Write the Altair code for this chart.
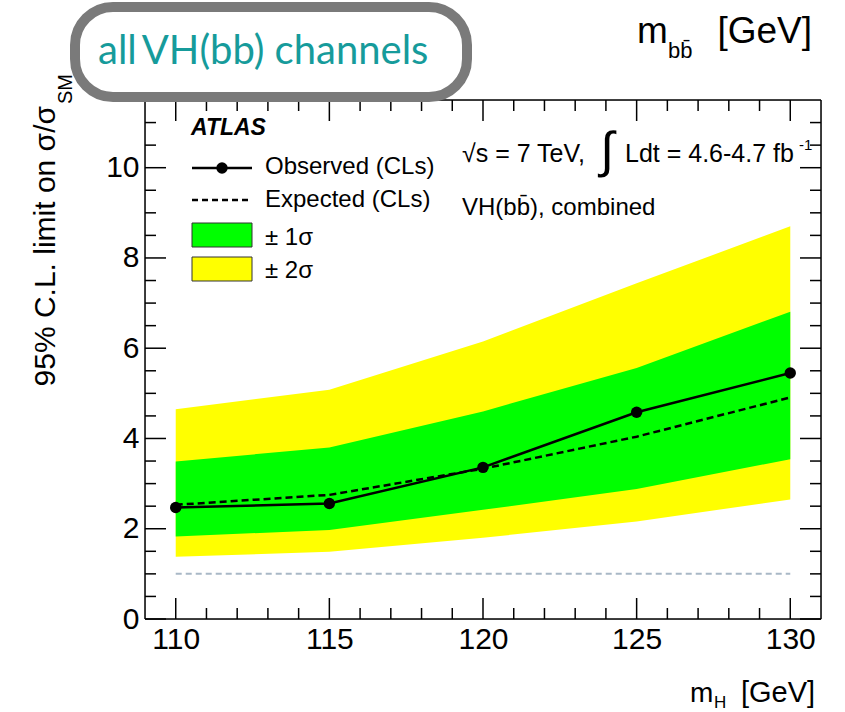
import altair as alt
import pandas as pd

# ---------------- data ----------------
mass = [110, 115, 120, 125, 130]
observed = [2.47, 2.56, 3.36, 4.58, 5.45]
expected = [2.53, 2.75, 3.33, 4.04, 4.91]
sigma1_lo = [1.83, 1.97, 2.42, 2.88, 3.54]
sigma1_hi = [3.49, 3.80, 4.60, 5.56, 6.81]
sigma2_lo = [1.38, 1.49, 1.80, 2.16, 2.65]
sigma2_hi = [4.65, 5.08, 6.15, 7.44, 8.70]
sm_level = [1.0, 1.0]
sm_range = [110, 130]

x_major = [110, 115, 120, 125, 130]
x_minor = [111, 112, 113, 114, 116, 117, 118, 119, 121, 122, 123, 124, 126, 127, 128, 129]
y_major = [0, 2, 4, 6, 8, 10]
y_minor = [0.5, 1, 1.5, 2.5, 3, 3.5, 4.5, 5, 5.5, 6.5, 7, 7.5, 8.5, 9, 9.5, 10.5, 11]

X_DOMAIN = [109, 131]
Y_DOMAIN = [0, 11.5]

# ---------------- layout ----------------
W, H = 676, 519
PAD = {"left": 145, "top": 100, "right": 24, "bottom": 93}
FONT = "Liberation Sans, Arial, Helvetica, sans-serif"

def rx(v):
    return v - PAD["left"]

def ry(v):
    return v - PAD["top"]

df = pd.DataFrame({
    "mass": mass, "obs": observed, "exp": expected,
    "lo1": sigma1_lo, "hi1": sigma1_hi, "lo2": sigma2_lo, "hi2": sigma2_hi,
})
sm_df = pd.DataFrame({"mass": sm_range, "lvl": sm_level})

xs = alt.Scale(domain=X_DOMAIN, nice=False, zero=False)
ys = alt.Scale(domain=Y_DOMAIN, nice=False, zero=False)
XAX = alt.Axis(values=x_major, title=None, ticks=False, tickSize=0, domain=False, grid=False,
               labelFont=FONT, labelFontSize=30, labelPadding=5, labelColor="black", format="d")
YAX = alt.Axis(values=y_major, title=None, ticks=False, tickSize=0, domain=False, grid=False,
               labelFont=FONT, labelFontSize=30, labelPadding=6, labelColor="black", format="d")

def X(field):
    return alt.X(field, type="quantitative", scale=xs, axis=XAX)

def Y(field):
    return alt.Y(field, type="quantitative", scale=ys, axis=YAX)

one = alt.Data(values=[{}])

layers = []

# bands
layers.append(alt.Chart(df).mark_area(color="#ffff00", opacity=1).encode(x=X("mass"), y=Y("lo2"), y2="hi2"))
layers.append(alt.Chart(df).mark_area(color="#00ff00", opacity=1).encode(x=X("mass"), y=Y("lo1"), y2="hi1"))
# SM reference
layers.append(alt.Chart(sm_df).mark_line(color="#a9b8c6", strokeWidth=2, strokeDash=[6, 4]).encode(x=X("mass"), y=Y("lvl")))
# expected
layers.append(alt.Chart(df).mark_line(color="black", strokeWidth=2.5, strokeDash=[7, 4]).encode(x=X("mass"), y=Y("exp")))
# observed
layers.append(alt.Chart(df).mark_line(color="black", strokeWidth=2.5).encode(x=X("mass"), y=Y("obs")))
layers.append(alt.Chart(df).mark_point(color="black", filled=True, opacity=1, size=130).encode(x=X("mass"), y=Y("obs")))

# inward ticks
def xticks(vals, length):
    d = pd.DataFrame({"v": vals})
    bot = alt.Chart(d).mark_rule(color="black", strokeWidth=1.5).encode(
        x=X("v"), y=alt.value(H), y2=alt.value(H - length))
    top = alt.Chart(d).mark_rule(color="black", strokeWidth=1.5).encode(
        x=X("v"), y=alt.value(0), y2=alt.value(length))
    return [bot, top]

def yticks(vals, length):
    d = pd.DataFrame({"v": vals})
    left = alt.Chart(d).mark_rule(color="black", strokeWidth=1.5).encode(
        y=Y("v"), x=alt.value(0), x2=alt.value(length))
    right = alt.Chart(d).mark_rule(color="black", strokeWidth=1.5).encode(
        y=Y("v"), x=alt.value(W), x2=alt.value(W - length))
    return [left, right]

layers += xticks(x_major, 21) + xticks(x_minor, 11) + yticks(y_major, 21) + yticks(y_minor, 11)

# frame
for enc in [
    dict(x=alt.value(0), x2=alt.value(W), y=alt.value(0)),
    dict(x=alt.value(0), x2=alt.value(W), y=alt.value(H)),
    dict(x=alt.value(0), y=alt.value(0), y2=alt.value(H)),
    dict(x=alt.value(W), y=alt.value(0), y2=alt.value(H)),
]:
    layers.append(alt.Chart(one).mark_rule(color="black", strokeWidth=1.5).encode(**enc))

def txt(s, x, y, size=24, **kw):
    props = dict(text=s, font=FONT, fontSize=size, color="black", align="left", baseline="alphabetic")
    props.update(kw)
    return alt.Chart(one).mark_text(**props).encode(x=alt.value(x), y=alt.value(y))

# y axis title
layers.append(txt("95% C.L. limit on σ/σ", rx(55), ry(106), size=30, angle=270, align="right"))
layers.append(txt("SM", rx(72), ry(104), size=20, angle=270, align="left"))

# x axis title
layers.append(txt("m", rx(690), ry(702), size=28))
layers.append(txt("H", rx(714), ry(708), size=17))
layers.append(txt("[GeV]", rx(741), ry(702), size=29))

# header top right
layers.append(txt("m", rx(637), ry(43), size=37))
layers.append(txt("bb\u0304", rx(668), ry(58), size=22))
layers.append(txt("[GeV]", rx(812), ry(43), size=37, align="right"))

# legend
layers.append(txt("ATLAS", rx(191), ry(135), size=23, fontWeight="bold", fontStyle="italic"))
layers.append(alt.Chart(one).mark_rule(color="black", strokeWidth=2.5).encode(
    x=alt.value(rx(192)), x2=alt.value(rx(252)), y=alt.value(ry(168))))
layers.append(alt.Chart(one).mark_point(color="black", filled=True, opacity=1, size=130).encode(
    x=alt.value(rx(222)), y=alt.value(ry(168))))
layers.append(txt("Observed (CLs)", rx(265), ry(174)))
layers.append(alt.Chart(one).mark_rule(color="black", strokeWidth=2.5, strokeDash=[6, 4]).encode(
    x=alt.value(rx(192)), x2=alt.value(rx(252)), y=alt.value(ry(200))))
layers.append(txt("Expected (CLs)", rx(265), ry(207)))
layers.append(alt.Chart(one).mark_rect(fill="#00ff00", stroke="#333333", strokeWidth=1).encode(
    x=alt.value(rx(192)), x2=alt.value(rx(252)), y=alt.value(ry(223)), y2=alt.value(ry(247))))
layers.append(txt("± 1σ", rx(265), ry(245)))
layers.append(alt.Chart(one).mark_rect(fill="#ffff00", stroke="#333333", strokeWidth=1).encode(
    x=alt.value(rx(192)), x2=alt.value(rx(252)), y=alt.value(ry(257)), y2=alt.value(ry(281))))
layers.append(txt("± 2σ", rx(265), ry(278)))

# energy / lumi labels
layers.append(txt("√s = 7 TeV,", rx(462), ry(162), size=25))
layers.append(txt("∫", rx(607), ry(152), size=50, align="center", baseline="middle"))
layers.append(txt("Ldt = 4.6-4.7 fb", rx(625), ry(162), size=25))
layers.append(txt("-1", rx(799), ry(150), size=15))
layers.append(txt("VH(bb\u0304), combined", rx(462), ry(215)))

# annotation box
layers.append(alt.Chart(one).mark_rect(fill="white", stroke="#7a7a7a", strokeWidth=10, cornerRadius=38).encode(
    x=alt.value(rx(75)), x2=alt.value(rx(467)), y=alt.value(ry(7)), y2=alt.value(ry(97))))
layers.append(txt("all\u2009VH(bb) channels", rx(98), ry(64), size=40, font="Lato, Open Sans, sans-serif", color="#169b9b"))

chart = alt.layer(*layers).properties(
    width=W, height=H,
    autosize=alt.AutoSizeParams(type="none"),
    padding=PAD,
).configure_view(stroke=None).configure(background="white")

chart.save("out.html", embed_options={"renderer": "svg", "actions": False})
